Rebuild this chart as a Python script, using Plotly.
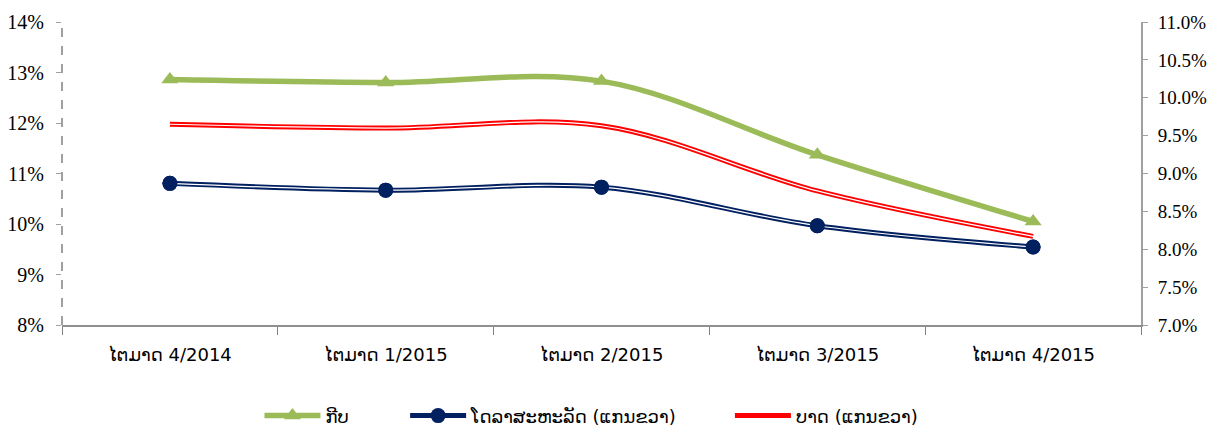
import plotly.graph_objects as go

categories = ["ໄຕມາດ 4/2014", "ໄຕມາດ 1/2015", "ໄຕມາດ 2/2015", "ໄຕມາດ 3/2015", "ໄຕມາດ 4/2015"]
kip = [12.86, 12.80, 12.83, 11.37, 10.05]
usd = [8.87, 8.78, 8.82, 8.31, 8.03]
thb = [9.65, 9.60, 9.63, 8.77, 8.17]

name_kip = "ກີບ"
name_usd = "ໂດລາສະຫະລັດ (ແກນຂວາ)"
name_thb = "ບາດ (ແກນຂວາ)"

green = "#9BBB59"
navy = "#002060"
red = "#FF0000"
lao_font = "DejaVu Sans, Noto Sans"

fig = go.Figure()
fig.add_trace(go.Scatter(x=categories, y=kip, name=name_kip, mode="lines+markers", legend="legend",
                         line=dict(color=green, width=5.5, shape="spline", smoothing=1),
                         marker=dict(symbol="triangle-up", size=15, color=green)))
fig.add_trace(go.Scatter(x=categories, y=usd, name=name_usd, mode="lines+markers", yaxis="y2", legend="legend2",
                         line=dict(color=navy, width=5, shape="spline", smoothing=1),
                         marker=dict(symbol="circle", size=15, color=navy)))
fig.add_trace(go.Scatter(x=categories, y=usd, mode="lines", yaxis="y2", showlegend=False, hoverinfo="skip",
                         line=dict(color="white", width=1.2, shape="spline", smoothing=1)))
fig.add_trace(go.Scatter(x=categories, y=usd, mode="markers", yaxis="y2", showlegend=False, hoverinfo="skip",
                         marker=dict(symbol="circle", size=15, color=navy)))
fig.add_trace(go.Scatter(x=categories, y=thb, name=name_thb, mode="lines", yaxis="y2", legend="legend3",
                         line=dict(color=red, width=5, shape="spline", smoothing=1)))
fig.add_trace(go.Scatter(x=categories, y=thb, mode="lines", yaxis="y2", showlegend=False, hoverinfo="skip",
                         line=dict(color="white", width=1.2, shape="spline", smoothing=1)))

legend_common = dict(orientation="h", y=-0.30, yanchor="middle", xanchor="left",
                     font=dict(family=lao_font, size=18, color="#000000"),
                     bgcolor="rgba(0,0,0,0)", itemwidth=56)

fig.update_layout(
    width=1211, height=420,
    margin=dict(l=54, r=78, t=14, b=103, autoexpand=False),
    paper_bgcolor="white", plot_bgcolor="white",
    showlegend=True,
    legend=dict(x=0.183, **legend_common),
    legend2=dict(x=0.318, **legend_common),
    legend3=dict(x=0.619, **legend_common),
    xaxis=dict(type="category", range=[-0.5, 4.5], tickson="boundaries", ticks="outside",
               ticklen=8, tickcolor="#808080", showline=True, linecolor="#909090", linewidth=2,
               showgrid=False, automargin=False, ticklabelstandoff=12,
               tickfont=dict(family=lao_font, size=18, color="#000000")),
    yaxis=dict(range=[8, 14], dtick=1, ticksuffix="%", showgrid=False, zeroline=False,
               showline=False, automargin=False, ticklabelstandoff=8,
               ticks="outside", ticklen=5, tickcolor="#A0A0A0",
               tickfont=dict(family="Liberation Serif", size=20, color="#000000")),
    yaxis2=dict(range=[7, 11], dtick=0.5, tickformat=".1f", ticksuffix="%", overlaying="y", side="right",
                showgrid=False, zeroline=False, showline=True, linecolor="#A0A0A0", linewidth=2,
                ticks="outside", ticklen=5, tickcolor="#A0A0A0", automargin=False, ticklabelstandoff=6,
                tickfont=dict(family="Liberation Serif", size=19, color="#000000")),
)
# dashed left axis line
fig.add_shape(type="line", xref="paper", yref="paper", x0=0, x1=0, y0=0, y1=1,
              line=dict(color="#A0A0A0", width=2, dash="dash"))

fig.write_html("out.html")
